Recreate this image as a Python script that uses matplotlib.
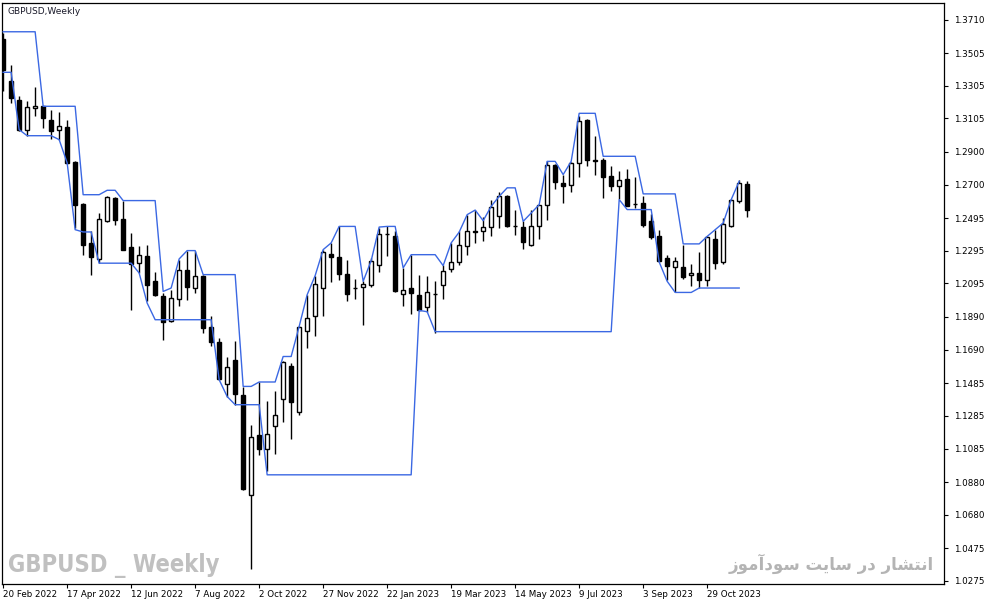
import numpy as np
import matplotlib
matplotlib.use("Agg")
import matplotlib.pyplot as plt

# weekly GBPUSD candles (bar 0 = week of 20 Feb 2022)
opens = [1.3592, 1.3332, 1.3220, 1.3036, 1.3169, 1.3179, 1.3098, 1.3036, 1.3053, 1.2836,
         1.2583, 1.2342, 1.2245, 1.2475, 1.2618, 1.2489, 1.2318, 1.2220, 1.2265, 1.2108,
         1.2020, 1.1863, 1.1999, 1.2175, 1.2067, 1.2138, 1.1828, 1.1734, 1.1479, 1.1628,
         1.1414, 1.0802, 1.1169, 1.1081, 1.1220, 1.1388, 1.1591, 1.1308, 1.1801, 1.1893,
         1.2067, 1.2277, 1.2257, 1.2153, 1.2067, 1.2073, 1.2087, 1.2206, 1.2400, 1.2388,
         1.2030, 1.2067, 1.2026, 1.1951, 1.2030, 1.2083, 1.2183, 1.2224, 1.2326, 1.2414,
         1.2418, 1.2441, 1.2506, 1.2632, 1.2449, 1.2441, 1.2332, 1.2444, 1.2573, 1.2818,
         1.2710, 1.2700, 1.2833, 1.3098, 1.2849, 1.2853, 1.2755, 1.2689, 1.2736, 1.2583,
         1.2588, 1.2479, 1.2387, 1.2251, 1.2193, 1.2196, 1.2144, 1.2159, 1.2114, 1.2367,
         1.2224, 1.2449, 1.2597, 1.2704]
highs = [1.3630, 1.3434, 1.3241, 1.3210, 1.3298, 1.3183, 1.3159, 1.3145, 1.3094, 1.2843,
         1.2587, 1.2414, 1.2526, 1.2632, 1.2624, 1.2598, 1.2404, 1.2322, 1.2328, 1.2163,
         1.2038, 1.2057, 1.2240, 1.2291, 1.2291, 1.2149, 1.1898, 1.1761, 1.1645, 1.1740,
         1.1461, 1.1230, 1.1489, 1.1377, 1.1438, 1.1618, 1.1608, 1.1832, 1.2026, 1.2143,
         1.2302, 1.2343, 1.2444, 1.2240, 1.2123, 1.2108, 1.2251, 1.2434, 1.2449, 1.2418,
         1.2190, 1.2271, 1.2149, 1.2143, 1.2112, 1.2210, 1.2343, 1.2414, 1.2516, 1.2542,
         1.2504, 1.2608, 1.2653, 1.2638, 1.2547, 1.2479, 1.2547, 1.2577, 1.2842, 1.2828,
         1.2761, 1.2836, 1.3118, 1.3102, 1.2995, 1.2863, 1.2812, 1.2785, 1.2797, 1.2747,
         1.2632, 1.2522, 1.2424, 1.2271, 1.2257, 1.2332, 1.2216, 1.2288, 1.2383, 1.2424,
         1.2496, 1.2612, 1.2730, 1.2724]
lows = [1.3271, 1.3200, 1.3030, 1.2996, 1.3118, 1.3047, 1.2979, 1.2975, 1.2828, 1.2434,
        1.2271, 1.2149, 1.2220, 1.2469, 1.2455, 1.2298, 1.1930, 1.2159, 1.1985, 1.2020,
        1.1751, 1.1857, 1.1955, 1.1996, 1.2037, 1.1792, 1.1710, 1.1506, 1.1403, 1.1353,
        1.0832, 1.0347, 1.1046, 1.0950, 1.1052, 1.1250, 1.1143, 1.1287, 1.1703, 1.1771,
        1.1893, 1.2104, 1.2118, 1.1985, 1.2000, 1.1838, 1.2075, 1.2163, 1.2261, 1.2041,
        1.1955, 1.1910, 1.1924, 1.1920, 1.1794, 1.2002, 1.2163, 1.2210, 1.2267, 1.2343,
        1.2353, 1.2383, 1.2434, 1.2438, 1.2390, 1.2306, 1.2322, 1.2367, 1.2481, 1.2675,
        1.2588, 1.2653, 1.2745, 1.2812, 1.2757, 1.2618, 1.2659, 1.2612, 1.2567, 1.2557,
        1.2441, 1.2369, 1.2224, 1.2118, 1.2041, 1.2122, 1.2081, 1.2067, 1.2081, 1.2183,
        1.2214, 1.2441, 1.2588, 1.2500]
closes = [1.3404, 1.3230, 1.3036, 1.3175, 1.3183, 1.3108, 1.3026, 1.3061, 1.2832, 1.2577,
          1.2328, 1.2257, 1.2489, 1.2624, 1.2481, 1.2302, 1.2216, 1.2267, 1.2087, 1.2026,
          1.1857, 1.2006, 1.2179, 1.2073, 1.2138, 1.1822, 1.1734, 1.1510, 1.1583, 1.1418,
          1.0836, 1.1155, 1.1081, 1.1173, 1.1291, 1.1614, 1.1369, 1.1828, 1.1883, 1.2092,
          1.2288, 1.2257, 1.2153, 1.2030, 1.2065, 1.2092, 1.2234, 1.2400, 1.2397, 1.2047,
          1.2057, 1.2037, 1.1934, 1.2043, 1.2032, 1.2173, 1.2226, 1.2328, 1.2414, 1.2412,
          1.2438, 1.2563, 1.2628, 1.2444, 1.2447, 1.2346, 1.2444, 1.2573, 1.2818, 1.2714,
          1.2689, 1.2833, 1.3092, 1.2849, 1.2846, 1.2747, 1.2689, 1.2730, 1.2571, 1.2580,
          1.2455, 1.2377, 1.2230, 1.2200, 1.2230, 1.2132, 1.2159, 1.2114, 1.2379, 1.2220,
          1.2459, 1.2608, 1.2710, 1.2542]

# blue channel lines (one value per bar, last bar empty)
upper = [1.3635] * 5 + [1.3179] * 5 + [1.2638] * 3 + [1.2665] * 2 + [1.2602] * 5 + \
        [1.2046, 1.2067, 1.2245, 1.2296, 1.2296] + [1.2149] * 5 + [1.1465] * 2 + [1.1492] * 3 + \
        [1.1648, 1.1648, 1.1832, 1.2026, 1.2143, 1.2302, 1.2343, 1.2444, 1.2444, 1.2444,
         1.2108, 1.2234, 1.2440, 1.2444, 1.2444, 1.2190] + [1.2271] * 4 + \
        [1.2204, 1.2343, 1.2409, 1.2516, 1.2544, 1.2479, 1.2567, 1.2628, 1.2680, 1.2680,
         1.2475, 1.2526, 1.2577, 1.2842, 1.2842, 1.2761, 1.2842] + [1.3136] * 3 + \
        [1.2873] * 5 + [1.2643] * 5 + [1.2337] * 3 + [1.2383, 1.2424, 1.2465, 1.2608, 1.2720, np.nan]
lower = [1.3387, 1.3387, 1.3036] + [1.2999] * 4 + [1.2975, 1.2833, 1.2424, 1.2410, 1.2410] + \
        [1.2219] * 5 + [1.2159, 1.1975] + [1.1873] * 8 + [1.1506, 1.1403] + [1.1353] * 4 + \
        [1.0924] * 19 + [1.1930, 1.1922] + [1.1800] * 23 + [1.2608] + [1.2547] * 4 + \
        [1.2226, 1.2108] + [1.2040] * 3 + [1.2067] * 6 + [np.nan]

date_labels = ["20 Feb 2022", "17 Apr 2022", "12 Jun 2022", "7 Aug 2022", "2 Oct 2022",
               "27 Nov 2022", "22 Jan 2023", "19 Mar 2023", "14 May 2023", "9 Jul 2023",
               "3 Sep 2023", "29 Oct 2023"]
price_ticks = [1.3710, 1.3505, 1.3305, 1.3105, 1.2900, 1.2700, 1.2495, 1.2295, 1.2095,
               1.1890, 1.1690, 1.1485, 1.1285, 1.1085, 1.0880, 1.0680, 1.0475, 1.0275]

credit = "انتشار در سایت سودآموز"


# matplotlib does not join arabic letters, so pick presentation forms by hand
forms = {
    "ا": ("\ufe8d", "\ufe8e"), "آ": ("\ufe81", "\ufe82"), "د": ("\ufea9", "\ufeaa"),
    "ر": ("\ufead", "\ufeae"), "ز": ("\ufeaf", "\ufeb0"), "و": ("\ufeed", "\ufeee"),
    "ن": ("\ufee5", "\ufee6", "\ufee7", "\ufee8"), "ت": ("\ufe95", "\ufe96", "\ufe97", "\ufe98"),
    "ش": ("\ufeb5", "\ufeb6", "\ufeb7", "\ufeb8"), "س": ("\ufeb1", "\ufeb2", "\ufeb3", "\ufeb4"),
    "ی": ("\ufbfc", "\ufbfd", "\ufbfe", "\ufbff"), "م": ("\ufee1", "\ufee2", "\ufee3", "\ufee4"),
}


def shape(text):
    out = []
    for k, c in enumerate(text):
        if c not in forms:
            out.append(c)
            continue
        prev = text[k - 1] if k > 0 else " "
        nxt = text[k + 1] if k + 1 < len(text) else " "
        jp = prev in forms and len(forms[prev]) == 4
        jn = len(forms[c]) == 4 and nxt in forms
        if jp and jn:
            out.append(forms[c][3])
        elif jp:
            out.append(forms[c][1])
        elif jn:
            out.append(forms[c][2])
        else:
            out.append(forms[c][0])
    return "".join(out[::-1])


W, H = 987, 605
fig = plt.figure(figsize=(W / 100, H / 100), dpi=100)
ax = fig.add_axes([2.5 / W, (H - 583.5) / H, 941.5 / W, 580.5 / H])

x = np.arange(len(opens))
o = np.array(opens); c = np.array(closes)
ax.vlines(x, lows, highs, color="black", lw=1.0, zorder=1)
up = c >= o
body_lo = np.minimum(o, c)
body_h = np.abs(c - o)
ax.bar(x[up], body_h[up], bottom=body_lo[up], width=0.5, color="white",
       edgecolor="black", linewidth=1.0, zorder=2)
ax.bar(x[~up], body_h[~up], bottom=body_lo[~up], width=0.5, color="black",
       edgecolor="black", linewidth=1.0, zorder=2)

ax.plot(x, upper, color="#3b68e3", lw=1.0, zorder=3)
ax.plot(x, lower, color="#3b68e3", lw=1.0, zorder=3)

ax.set_xlim(-0.08, 117.6)
ax.set_ylim(1.0259, 1.3811)

ax.yaxis.tick_right()
ax.set_yticks(price_ticks)
ax.set_yticklabels(["%.4f" % v for v in price_ticks])
ax.set_xticks(np.arange(0, 8 * len(date_labels), 8))
ax.set_xticklabels(date_labels, ha="left")
ax.tick_params(axis="both", direction="out", length=3, width=0.8, labelsize=6.3,
               colors="black", pad=2)
ax.tick_params(axis="y", pad=4)
for s in ax.spines.values():
    s.set_linewidth(0.9)

fig.text(8 / W, 1 - 11 / H, "GBPUSD,Weekly", fontsize=6.5, color="#1a1a2a", va="center")
fig.text(8 / W, 1 - 565 / H, "GBPUSD _ Weekly", fontsize=17, fontweight="bold",
         family=["Liberation Sans Narrow", "DejaVu Sans"], fontstretch="condensed",
         color="#c0c0c0", va="center")
fig.text(934 / W, 1 - 564 / H, shape(credit), fontsize=12, fontweight="bold",
         family=["DejaVu Sans"], color="#b4b4b4", va="center", ha="right")

fig.savefig("out.png", dpi=100)
